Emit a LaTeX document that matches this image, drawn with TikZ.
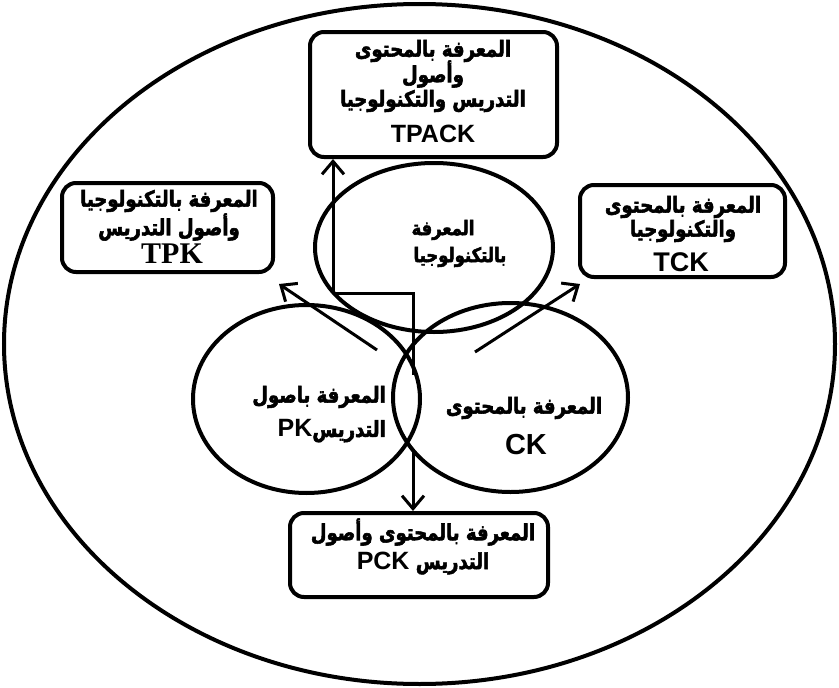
\documentclass[tikz,border=0pt]{standalone}
\usepackage{fontspec}
\usetikzlibrary{shapes.geometric,arrows.meta}
\TeXXeTstate=1
\newfontfamily\arabicfont[Script=Arabic,BoldFeatures={FakeBold=2.5,FakeStretch=0.82}]{DejaVu Sans}
\newfontfamily\latinsans{Liberation Sans}
\newfontfamily\latinserif{Liberation Serif}
\tikzset{
  box/.style={draw,line width=4pt,rounded corners=14pt,inner sep=0pt},
  oval/.style={draw,ellipse,line width=4pt,inner sep=0pt},
  conn/.style={line width=3pt},
  arr/.style={line width=3pt,-{Straight Barb[length=13pt,width=22pt]}},
  ar/.style={font=\arabicfont\bfseries\fontsize{22}{25}\selectfont,inner sep=0pt},
  arsm/.style={font=\arabicfont\bfseries\fontsize{20}{23}\selectfont,inner sep=0pt},
  lat/.style={font=\latinsans\bfseries\fontsize{25}{28}\selectfont,inner sep=0pt},
  latbig/.style={font=\latinsans\bfseries\fontsize{27}{30}\selectfont,inner sep=0pt},
  latser/.style={font=\latinserif\bfseries\fontsize{30}{32}\selectfont,inner sep=0pt}
}
\begin{document}
\begin{tikzpicture}[x=1pt,y=-1pt]
\useasboundingbox (0,0) rectangle (839,688);
% outer ellipse
\node[oval,minimum width=831pt,minimum height=680pt] (outer) at (419.5,344) {};
% boxes
\node[box,minimum width=247pt,minimum height=125pt] (tpack) at (433.5,94.5) {};
\node[box,minimum width=211pt,minimum height=89pt] (tpk) at (167.5,227.5) {};
\node[box,minimum width=205pt,minimum height=92pt] (tck) at (682.5,231) {};
\node[box,minimum width=258pt,minimum height=84pt] (pck) at (419,555) {};
% ellipses
\node[oval,minimum width=238pt,minimum height=169pt] (tech) at (434,247.5) {};
\node[oval,minimum width=227pt,minimum height=188pt] (pk) at (306.5,399) {};
\node[oval,minimum width=235pt,minimum height=189pt] (ck) at (510.5,397.5) {};
% texts
\node[ar] (t1) at (433,51) {\beginR المعرفة بالمحتوى\endR};
\node[ar] (t2) at (433,74) {\beginR وأصول\endR};
\node[ar] (t3) at (433,101) {\beginR التدريس والتكنولوجيا\endR};
\node[lat] (t4) at (433,134) {TPACK};
\node[ar] (p1) at (169,201) {\beginR المعرفة بالتكنولوجيا\endR};
\node[ar] (p2) at (169,227) {\beginR وأصول التدريس\endR};
\node[latser] (p3) at (172,254) {TPK};
\node[ar] (c1t) at (683,207) {\beginR المعرفة بالمحتوى\endR};
\node[ar] (c2t) at (683,231) {\beginR والتكنولوجيا\endR};
\node[latbig] (c3t) at (681,262) {TCK};
\node[arsm] (e1) at (443,230) {\beginR المعرفة\endR};
\node[arsm] (e2) at (460,257) {\beginR بالتكنولوجيا\endR};
\node[ar,anchor=east] (k1) at (386,397) {\beginR المعرفة باصول\endR};
\node[ar,anchor=east] (k2) at (386,431) {\beginR التدريس\beginL{\latinsans\fontsize{25}{28}\selectfont PK}\endL\endR};
\node[ar] (m1) at (524,408) {\beginR المعرفة بالمحتوى\endR};
\node[lat,font=\latinsans\bfseries\fontsize{29}{32}\selectfont] (m2) at (526,445) {CK};
\node[ar] (q1) at (423,532) {\beginR المعرفة بالمحتوى وأصول\endR};
\node[ar] (q2) at (423,563) {\beginR التدريس \beginL{\latinsans\fontsize{25}{28}\selectfont PCK}\endL\endR};
% connectors
\coordinate (j1) at (333,293);
\coordinate (j2) at (413,293);
\coordinate (j3) at (413,375);
\coordinate (j4) at (413,450);
\coordinate (s1) at (377,350);
\coordinate (s2) at (475,352);
\draw[conn] (j3) -- (j2) -- (j1);
\draw[arr] (j1) -- (j1 |- tpack.south);
\draw[arr] (j4) -- (j4 |- pck.north);
\draw[arr] (s1) -- ([shift={(4,10)}]tpk.south east);
\draw[arr] (s2) -- ([shift={(2,5)}]tck.south west);
\end{tikzpicture}
\end{document}
